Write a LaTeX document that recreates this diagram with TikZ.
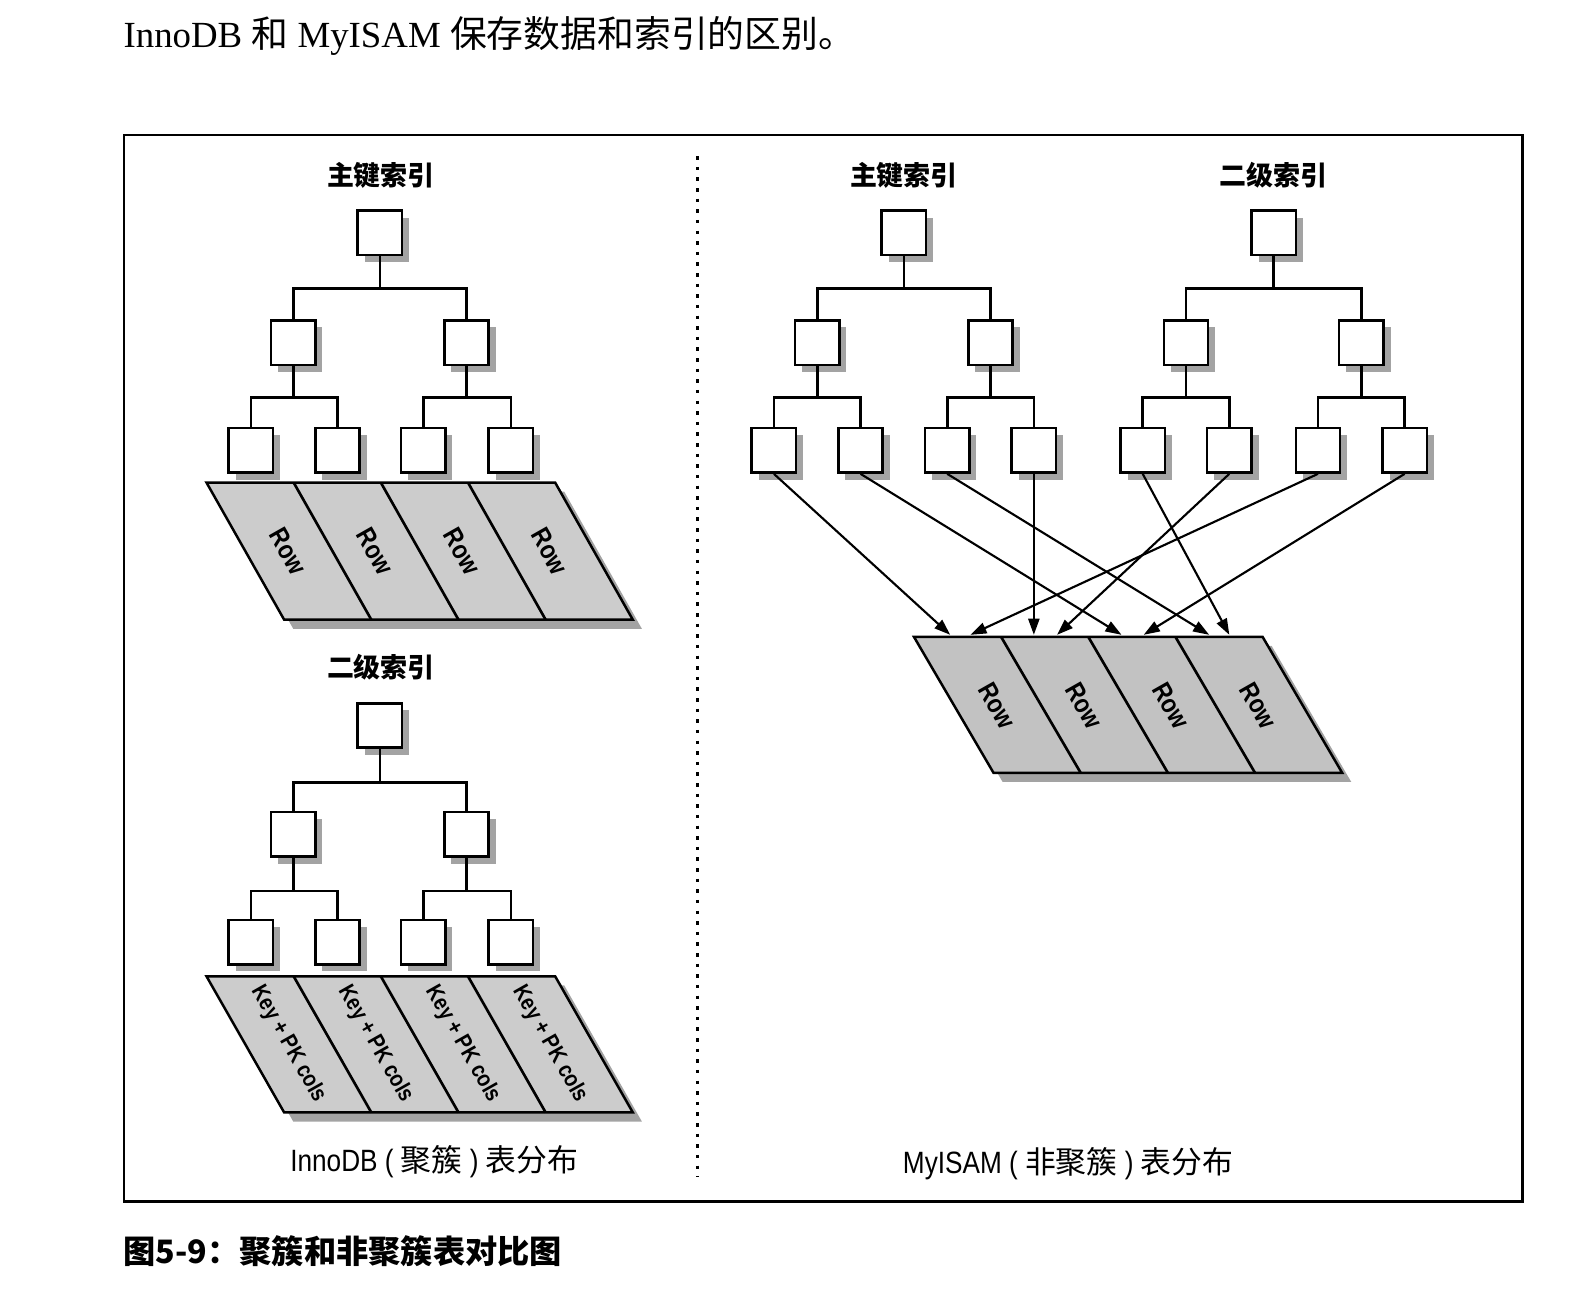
\documentclass[tikz,border=0pt]{standalone}
\usepackage{fontspec}
\setmainfont{Liberation Serif}
\newfontfamily\cjk{Noto Sans CJK SC}
\newfontfamily\narrow[FakeStretch=0.85]{Liberation Sans}
\usetikzlibrary{arrows.meta, positioning, shadows}

\begin{document}
\begin{tikzpicture}[
    x=0.1mm, y=0.1mm,
    box/.style={draw, fill=white, line width=0.7pt, minimum size=4.4mm, inner sep=0pt, drop shadow={shadow xshift=0.7mm, shadow yshift=-0.7mm, fill=black!60, opacity=0.6}},
    tablebox/.style={draw, fill=gray!40, line width=0.7pt, drop shadow={shadow xshift=0.9mm, shadow yshift=-0.9mm, fill=black!60, opacity=0.6}},
    link/.style={line width=0.75pt},
    arrow/.style={-{Triangle[length=1.6mm, width=1.1mm]}, line width=0.6pt},
    title/.style={font=\cjk\bfseries\fontsize{7.6}{9}\selectfont},
    row/.style={font=\narrow\bfseries\fontsize{7.5}{9}\selectfont, rotate=-60.5},
    keycols/.style={font=\narrow\bfseries\fontsize{6.5}{8}\selectfont, rotate=-60.5, inner sep=0pt},
    caption/.style={font=\narrow\fontsize{8.7}{10}\selectfont}
]
    \useasboundingbox (0,0) rectangle (1568,-1306);

    % Heading, frame and figure caption
    \node[anchor=base west, inner sep=0pt, font=\fontsize{10.4}{13}\selectfont] (heading) at (122,-47)
        {InnoDB {\cjk 和} MyISAM {\cjk 保存数据和索引的区别。}};
    \draw[line width=0.8pt] (123,-134) rectangle (1511,-1192);
    \draw[dotted, line width=1pt] (692,-155) -- (692,-1168);
    \node[anchor=west, inner sep=0pt, font=\cjk\bfseries\fontsize{9.1}{11}\selectfont] (figcap) at (122,-1242) {图5-9：聚簇和非聚簇表对比图};

    % InnoDB: primary index
    \node[title] (iptitle) at (378,-174) {主键索引};
    \node[box] (ip) at (377,-231) {};
    \node[box] (ip1) at (291,-340) {};
    \node[box] (ip2) at (463,-340) {};
    \node[box] (ip11) at (249,-447) {};
    \node[box] (ip12) at (335,-447) {};
    \node[box] (ip21) at (420,-447) {};
    \node[box] (ip22) at (507,-447) {};
    \draw[link] (ip.south) -- ++(0,-32) -| (ip1.north) (ip.south) -- ++(0,-32) -| (ip2.north);
    \draw[link] (ip1.south) -- ++(0,-31) -| (ip11.north) (ip1.south) -- ++(0,-31) -| (ip12.north);
    \draw[link] (ip2.south) -- ++(0,-31) -| (ip21.north) (ip2.south) -- ++(0,-31) -| (ip22.north);

    \filldraw[tablebox] (205,-479) -- (551,-479) -- (628,-615) -- (282,-615) -- cycle;
    \draw[link] (291.5,-479) -- (368.5,-615) (378,-479) -- (455,-615) (464.5,-479) -- (541.5,-615);
    \node[row] (irow1) at (286,-547) {Row};
    \node[row] (irow2) at (372.5,-547) {Row};
    \node[row] (irow3) at (459,-547) {Row};
    \node[row] (irow4) at (545.5,-547) {Row};

    % InnoDB: secondary index
    \node[title] (istitle) at (378,-662) {二级索引};
    \node[box] (is) at (377,-720) {};
    \node[box] (is1) at (291,-828) {};
    \node[box] (is2) at (463,-828) {};
    \node[box] (is11) at (249,-935) {};
    \node[box] (is12) at (335,-935) {};
    \node[box] (is21) at (420,-935) {};
    \node[box] (is22) at (507,-935) {};
    \draw[link] (is.south) -- ++(0,-33) -| (is1.north) (is.south) -- ++(0,-33) -| (is2.north);
    \draw[link] (is1.south) -- ++(0,-33) -| (is11.north) (is1.south) -- ++(0,-33) -| (is12.north);
    \draw[link] (is2.south) -- ++(0,-33) -| (is21.north) (is2.south) -- ++(0,-33) -| (is22.north);

    \filldraw[tablebox] (205,-969) -- (551,-969) -- (628,-1104) -- (282,-1104) -- cycle;
    \draw[link] (291.5,-969) -- (368.5,-1104) (378,-969) -- (455,-1104) (464.5,-969) -- (541.5,-1104);
    \node[keycols] (ikey1) at (286,-1036) {Key + PK cols};
    \node[keycols] (ikey2) at (372.5,-1036) {Key + PK cols};
    \node[keycols] (ikey3) at (459,-1036) {Key + PK cols};
    \node[keycols] (ikey4) at (545.5,-1036) {Key + PK cols};

    \node[caption] (icap) at (431,-1153) {InnoDB ( {\cjk 聚簇} ) {\cjk 表分布}};

    % MyISAM: primary and secondary index
    \node[title] (mptitle) at (897,-174) {主键索引};
    \node[box] (mp) at (897,-231) {};
    \node[box] (mp1) at (811,-340) {};
    \node[box] (mp2) at (983,-340) {};
    \node[box] (mp11) at (768,-447) {};
    \node[box] (mp12) at (854,-447) {};
    \node[box] (mp21) at (940,-447) {};
    \node[box] (mp22) at (1026,-447) {};
    \draw[link] (mp.south) -- ++(0,-32) -| (mp1.north) (mp.south) -- ++(0,-32) -| (mp2.north);
    \draw[link] (mp1.south) -- ++(0,-31) -| (mp11.north) (mp1.south) -- ++(0,-31) -| (mp12.north);
    \draw[link] (mp2.south) -- ++(0,-31) -| (mp21.north) (mp2.south) -- ++(0,-31) -| (mp22.north);

    \node[title] (mstitle) at (1264,-174) {二级索引};
    \node[box] (ms) at (1264,-231) {};
    \node[box] (ms1) at (1177,-340) {};
    \node[box] (ms2) at (1351,-340) {};
    \node[box] (ms11) at (1134,-447) {};
    \node[box] (ms12) at (1220,-447) {};
    \node[box] (ms21) at (1308,-447) {};
    \node[box] (ms22) at (1394,-447) {};
    \draw[link] (ms.south) -- ++(0,-32) -| (ms1.north) (ms.south) -- ++(0,-32) -| (ms2.north);
    \draw[link] (ms1.south) -- ++(0,-31) -| (ms11.north) (ms1.south) -- ++(0,-31) -| (ms12.north);
    \draw[link] (ms2.south) -- ++(0,-31) -| (ms21.north) (ms2.south) -- ++(0,-31) -| (ms22.north);

    % MyISAM: data rows
    \filldraw[tablebox, fill=gray!48] (907,-632) -- (1253,-632) -- (1332,-767) -- (986,-767) -- cycle;
    \draw[link] (993.5,-632) -- (1072.5,-767) (1080,-632) -- (1159,-767) (1166.5,-632) -- (1245.5,-767);
    \node[row] (mrow1) at (989.5,-700) {Row};
    \node[row] (mrow2) at (1076,-700) {Row};
    \node[row] (mrow3) at (1162.5,-700) {Row};
    \node[row] (mrow4) at (1249,-700) {Row};
    \coordinate (t1a) at (943,-630);
    \coordinate (t1b) at (963,-630);
    \coordinate (t2a) at (1026,-630);
    \coordinate (t2b) at (1049,-630);
    \coordinate (t3a) at (1113,-630);
    \coordinate (t3b) at (1135,-630);
    \coordinate (t4a) at (1200,-630);
    \coordinate (t4b) at (1220,-630);

    % Paths
    \draw[arrow] (mp11.south) -- (t1a);
    \draw[arrow] (mp12.south) -- (t3a);
    \draw[arrow] (mp21.south) -- (t4a);
    \draw[arrow] (mp22.south) -- (t2a);
    \draw[arrow] (ms11.south) -- (t4b);
    \draw[arrow] (ms12.south) -- (t2b);
    \draw[arrow] (ms21.south) -- (t1b);
    \draw[arrow] (ms22.south) -- (t3b);

    \node[caption] (mcap) at (1060,-1155) {MyISAM ( {\cjk 非聚簇} ) {\cjk 表分布}};
\end{tikzpicture}
\end{document}
